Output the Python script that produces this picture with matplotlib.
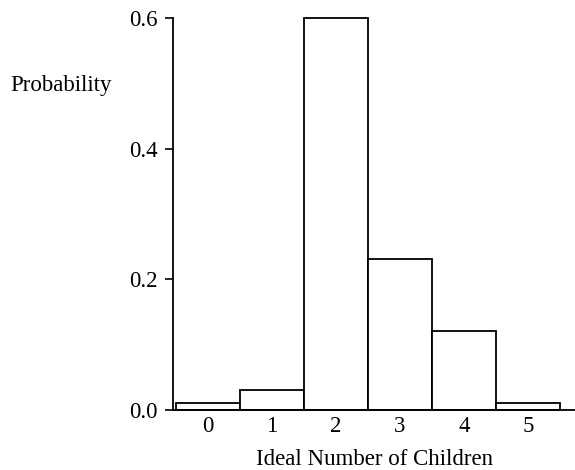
import matplotlib
matplotlib.use("Agg")
import matplotlib.pyplot as plt

# Data
children = [0, 1, 2, 3, 4, 5]
probability = [0.011, 0.030, 0.600, 0.231, 0.121, 0.011]
y_ticks = [0.0, 0.2, 0.4, 0.6]
y_tick_labels = ["0.0", "0.2", "0.4", "0.6"]

plt.rcParams["font.family"] = ["Liberation Serif", "DejaVu Serif"]

fig = plt.figure(figsize=(5.75, 4.7), dpi=100)
ax = fig.add_axes([0.301, 0.1277, 0.699, 0.834])

bars = ax.bar(children, probability, width=1.0, facecolor="white",
              edgecolor="black", linewidth=1.3)
for b in bars:
    b.set_clip_on(False)

ax.set_xlim(-0.547, 5.734)
ax.set_ylim(0, 0.6)

ax.spines["top"].set_visible(False)
ax.spines["right"].set_visible(False)
ax.spines["left"].set_linewidth(1.3)
ax.spines["bottom"].set_linewidth(1.3)

ax.set_yticks(y_ticks)
ax.set_yticklabels(y_tick_labels)
ax.set_xticks(children)
ax.tick_params(axis="y", direction="out", length=6, width=1.2,
               labelsize=16.5, pad=5)
ax.tick_params(axis="x", length=0, labelsize=16.5, pad=4)

ax.set_xlabel("Ideal Number of Children", fontsize=16.5, labelpad=9)
fig.text(10 / 575, 1 - 85 / 470, "Probability", fontsize=16.5,
         ha="left", va="center")

fig.savefig("out.png", dpi=100)
